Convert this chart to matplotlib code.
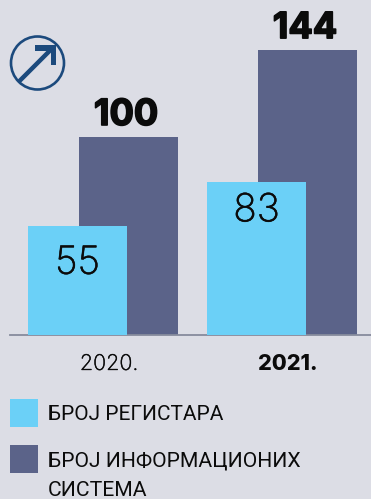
import matplotlib
matplotlib.use("Agg")
import matplotlib.pyplot as plt
import matplotlib.patheffects as pe
from matplotlib.patches import Circle, Polygon, Rectangle

W, H = 371, 499
BG = "#dcdde5"
LIGHT = "#6bd0f7"
DARK = "#5b6389"
NAVY = "#1c4a7d"
INK = "#0b0b0b"

years = ["2020.", "2021."]
registers_height = [55, 77]
registers_label = ["55", "83"]
systems_height = [100, 144]
systems_label = ["100", "144"]
legend_labels = ["БРОЈ РЕГИСТАРА", "БРОЈ ИНФОРМАЦИОНИХ\nСИСТЕМА"]
inner_label_drop_px = [19, 10]

fig = plt.figure(figsize=(W / 100, H / 100), dpi=100, facecolor=BG)

# chart axes: x 10..371 px, y 0..334.5 px from top
ax = fig.add_axes([10 / W, 1 - 334.5 / H, 361 / W, 334.5 / H], facecolor="none")
ax.set_xlim(-93 / 179, 268 / 179)
ax.set_ylim(0, 334.5 / 1.975)
bw = 99 / 179
off = 25.5 / 179
xs = [0, 1]
ax.bar([x + off for x in xs], systems_height, bw, color=DARK, zorder=2)
ax.bar([x - off for x in xs], registers_height, bw, color=LIGHT, zorder=3)
for x, h, s in zip(xs, systems_height, systems_label):
    ax.annotate(s, (x + off, h), xytext=(-2.5, 5), textcoords="offset pixels",
                ha="center", va="bottom", fontsize=26, fontweight="bold",
                family="Inter", color=INK,
                path_effects=[pe.withStroke(linewidth=1.2, foreground=INK)])
for x, h, s, d in zip(xs, registers_height, registers_label, inner_label_drop_px):
    ax.annotate(s, (x - off, h), xytext=(0, -d), textcoords="offset pixels",
                ha="center", va="top", fontsize=28, fontweight="light",
                family="Inter", color=INK, zorder=5,
                path_effects=[pe.withStroke(linewidth=0.4, foreground=INK)])
for s in ("top", "right", "left"):
    ax.spines[s].set_visible(False)
ax.spines["bottom"].set_color("#868b9c")
ax.spines["bottom"].set_linewidth(1.3)
ax.set_yticks([])
ax.set_xticks(xs)
ax.set_xticklabels(years, fontsize=15.5, family="Inter", color=INK, fontweight="light")
ax.get_xticklabels()[1].set_fontweight("heavy")
ax.tick_params(axis="x", length=0, pad=14)
for lab in ax.get_xticklabels():
    lab.set_transform(lab.get_transform() + matplotlib.transforms.ScaledTranslation(6 / 100, 0, fig.dpi_scale_trans))
ax.get_xticklabels()[0].set_path_effects([pe.withStroke(linewidth=0.3, foreground=INK)])

# overlay in pixel coordinates for icon and legend
ov = fig.add_axes([0, 0, 1, 1], facecolor="none")
ov.set_xlim(0, W)
ov.set_ylim(H, 0)
ov.axis("off")
ov.add_patch(Circle((37.5, 63), 26.5, fill=False, ec=NAVY, lw=1.9))
ov.plot([19, 52], [81.5, 48.5], color=NAVY, lw=3.2, solid_capstyle="butt")
ov.add_patch(Polygon([[35, 45], [56, 45], [56, 65], [50.5, 65], [50.5, 50.5], [35, 50.5]], color=NAVY, lw=0))

for (y, colour) in ((399, LIGHT), (445, DARK)):
    ov.add_patch(Rectangle((10, y), 28, 28, color=colour, lw=0))
ov.text(48, 415, legend_labels[0], fontsize=15, family="Roboto", color=INK, va="center", ha="left")
ov.text(48, 476, legend_labels[1], fontsize=15.2, family="Roboto", color=INK, va="center", ha="left", linespacing=1.72)

fig.savefig("out.png", dpi=100, facecolor=BG)
